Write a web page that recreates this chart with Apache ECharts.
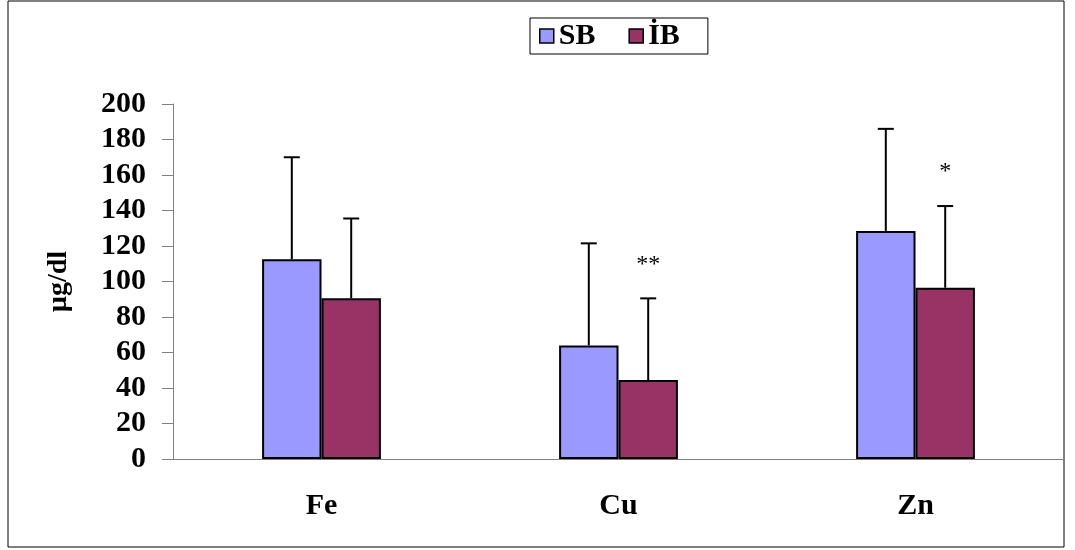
<!DOCTYPE html>
<html>
<head>
<meta charset="utf-8">
<script src="https://cdn.jsdelivr.net/npm/echarts@6/dist/echarts.min.js"></script>
<style>
    html, body { margin: 0; padding: 0; background: #fff; }
    #chart { width: 1075px; height: 550px; }
</style>
</head>
<body>
<div id="chart"></div>
<script>
var categories = ['Fe', 'Cu', 'Zn'];
var sbValues = [112.5, 64, 128.5];
var sbErrors = [57.5, 57.5, 57.5];
var ibValues = [90.5, 44.5, 96.5];
var ibErrors = [45, 46, 46];
var ibMarks = ['', '**', '*'];
var yTicks = [0, 200, 20];

var font = '"Liberation Serif", "Times New Roman", serif';
var chart = echarts.init(document.getElementById('chart'));

// error bar series, offset to the left (-1) or right (+1) bar of a category
function errorSeries(name, values, errors, side, marks) {
    return {
        name: name + ' err',
        type: 'custom',
        z: 5,
        data: values.map(function (v, i) { return [i, v, errors[i]]; }),
        renderItem: function (params, api) {
            var i = api.value(0);
            var base = api.coord([i, api.value(1)]);
            var top = api.coord([i, api.value(1) + api.value(2)]);
            var bw = api.size([1, 0])[0] * 0.2;
            var x = base[0] + side * bw / 2;
            var style = { stroke: '#000', lineWidth: 2 };
            var children = [
                { type: 'line', shape: { x1: x, y1: base[1], x2: x, y2: top[1] }, style: style },
                { type: 'line', shape: { x1: x - 8, y1: top[1], x2: x + 8, y2: top[1] }, style: style }
            ];
            if (marks && marks[i]) {
                children.push({
                    type: 'text',
                    style: {
                        text: marks[i], x: x, y: top[1] - 22,
                        align: 'center', verticalAlign: 'bottom',
                        font: '24px ' + font, fill: '#000'
                    }
                });
            }
            return { type: 'group', children: children };
        }
    };
}

var option = {
    animation: false,
    backgroundColor: '#fff',
    graphic: [{
        type: 'rect',
        shape: { x: 8, y: 1, width: 1056, height: 546 },
        style: { fill: 'none', stroke: '#000', lineWidth: 1 },
        silent: true
    }],
    legend: {
        left: 530,
        top: 18,
        padding: [3, 28, 3, 9],
        itemGap: 33,
        itemWidth: 14,
        itemHeight: 14,
        icon: 'rect',
        borderColor: '#000',
        borderWidth: 1,
        itemStyle: { borderColor: '#000', borderWidth: 1.5 },
        textStyle: { fontFamily: font, fontWeight: 'bold', fontSize: 30, color: '#000', padding: [3, 0, 0, 0] },
        data: ['SB', 'İB']
    },
    grid: { left: 173, right: 11, top: 104, bottom: 91 },
    xAxis: {
        type: 'category',
        data: categories,
        axisLine: { lineStyle: { color: '#808080', width: 1 } },
        axisTick: { length: 9, lineStyle: { color: '#808080' } },
        axisLabel: { margin: 32, fontFamily: font, fontWeight: 'bold', fontSize: 30, color: '#000' }
    },
    yAxis: {
        type: 'value',
        min: yTicks[0],
        max: yTicks[1],
        interval: yTicks[2],
        name: 'µg/dl',
        nameLocation: 'middle',
        nameGap: 100,
        nameRotate: 90,
        nameTextStyle: { fontFamily: font, fontWeight: 'bold', fontSize: 28, color: '#000' },
        axisLine: { show: true, lineStyle: { color: '#808080', width: 1 } },
        axisTick: { show: true, length: 11, lineStyle: { color: '#808080' } },
        splitLine: { show: false },
        axisLabel: { margin: 27, fontFamily: font, fontWeight: 'bold', fontSize: 30, color: '#000' }
    },
    series: [
        {
            name: 'SB',
            type: 'bar',
            data: sbValues,
            barGap: '0%',
            barCategoryGap: '60%',
            itemStyle: { color: '#9999FF', borderColor: '#000', borderWidth: 2 }
        },
        {
            name: 'İB',
            type: 'bar',
            data: ibValues,
            itemStyle: { color: '#993366', borderColor: '#000', borderWidth: 2 }
        },
        errorSeries('SB', sbValues, sbErrors, -1),
        errorSeries('İB', ibValues, ibErrors, 1, ibMarks)
    ]
};

chart.setOption(option);
</script>
</body>
</html>
